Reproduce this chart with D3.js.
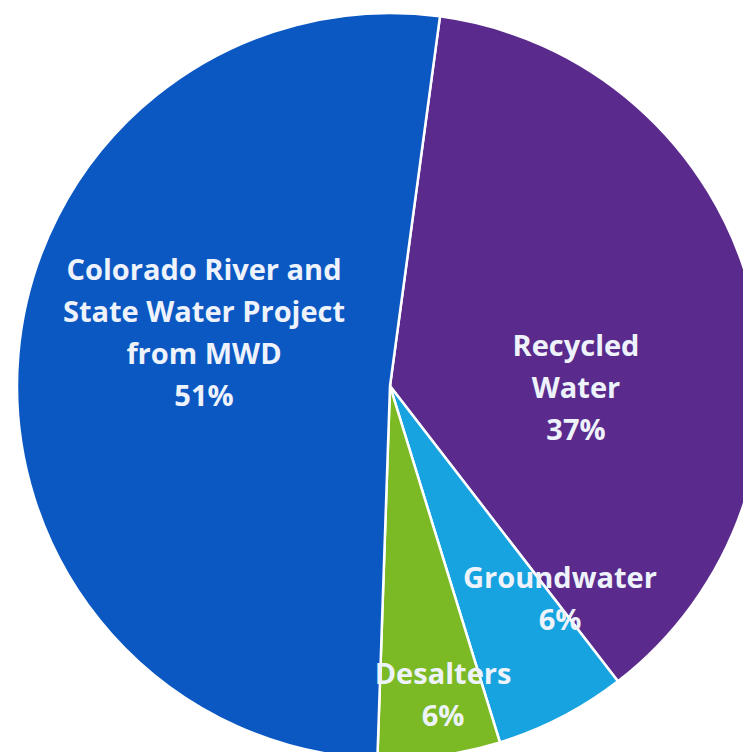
<!DOCTYPE html>
<html><head><meta charset="utf-8">
<script src="https://cdn.jsdelivr.net/npm/d3@7"></script>
<style>html,body{margin:0;padding:0;background:#fff;}svg{display:block;}</style>
</head><body>
<script>
// Data (clockwise from the top)
const categories = ["Recycled Water", "Groundwater", "Desalters", "Colorado River and State Water Project from MWD"];
const values = [37.4, 5.7, 5.3, 51.6];
const labelLines = [
  ["Recycled", "Water", "37%"],
  ["Groundwater", "6%"],
  ["Desalters", "6%"],
  ["Colorado River and", "State Water Project", "from MWD", "51%"]
];
const colors = ["#5a2b8c", "#17a3df", "#7bba25", "#0b58c3"];

// Layout
const W = 743, H = 752;
const cx = 390, cy = 386, R = 373;
const startDeg = 7.7;
const labelOffsets = [[186, 0], [170, 211], [53, 307], [-186, -55]];
const lineH = 42;

const svg = d3.select("body").append("svg").attr("width", W).attr("height", H);
const g = svg.append("g").attr("transform", `translate(${cx},${cy})`);

const start = startDeg * Math.PI / 180;
const pie = d3.pie().sort(null).value(d => d).startAngle(start).endAngle(start + 2 * Math.PI);
const arcs = pie(values);
const arc = d3.arc().innerRadius(0).outerRadius(R);

g.selectAll("path.slice").data(arcs).join("path")
  .attr("class", "slice")
  .attr("d", arc)
  .attr("fill", (d, i) => colors[i])
  .attr("stroke", "#ffffff")
  .attr("stroke-width", 2.5)
  .attr("stroke-linejoin", "round");

const labels = g.selectAll("text.lbl").data(arcs).join("text")
  .attr("class", "lbl")
  .attr("text-anchor", "middle")
  .attr("font-family", "'Open Sans', sans-serif")
  .attr("font-weight", 700)
  .attr("font-size", 29)
  .attr("fill", "#eef3fb")
  .attr("transform", (d, i) => `translate(${labelOffsets[i][0]},${labelOffsets[i][1]})`);

labels.each(function(d, i) {
  const lines = labelLines[i];
  const n = lines.length;
  d3.select(this).selectAll("tspan").data(lines).join("tspan")
    .attr("x", 0)
    .attr("y", (t, j) => (j - (n - 1) / 2) * lineH)
    .attr("dominant-baseline", "central")
    .text(t => t);
});
</script>
</body></html>
